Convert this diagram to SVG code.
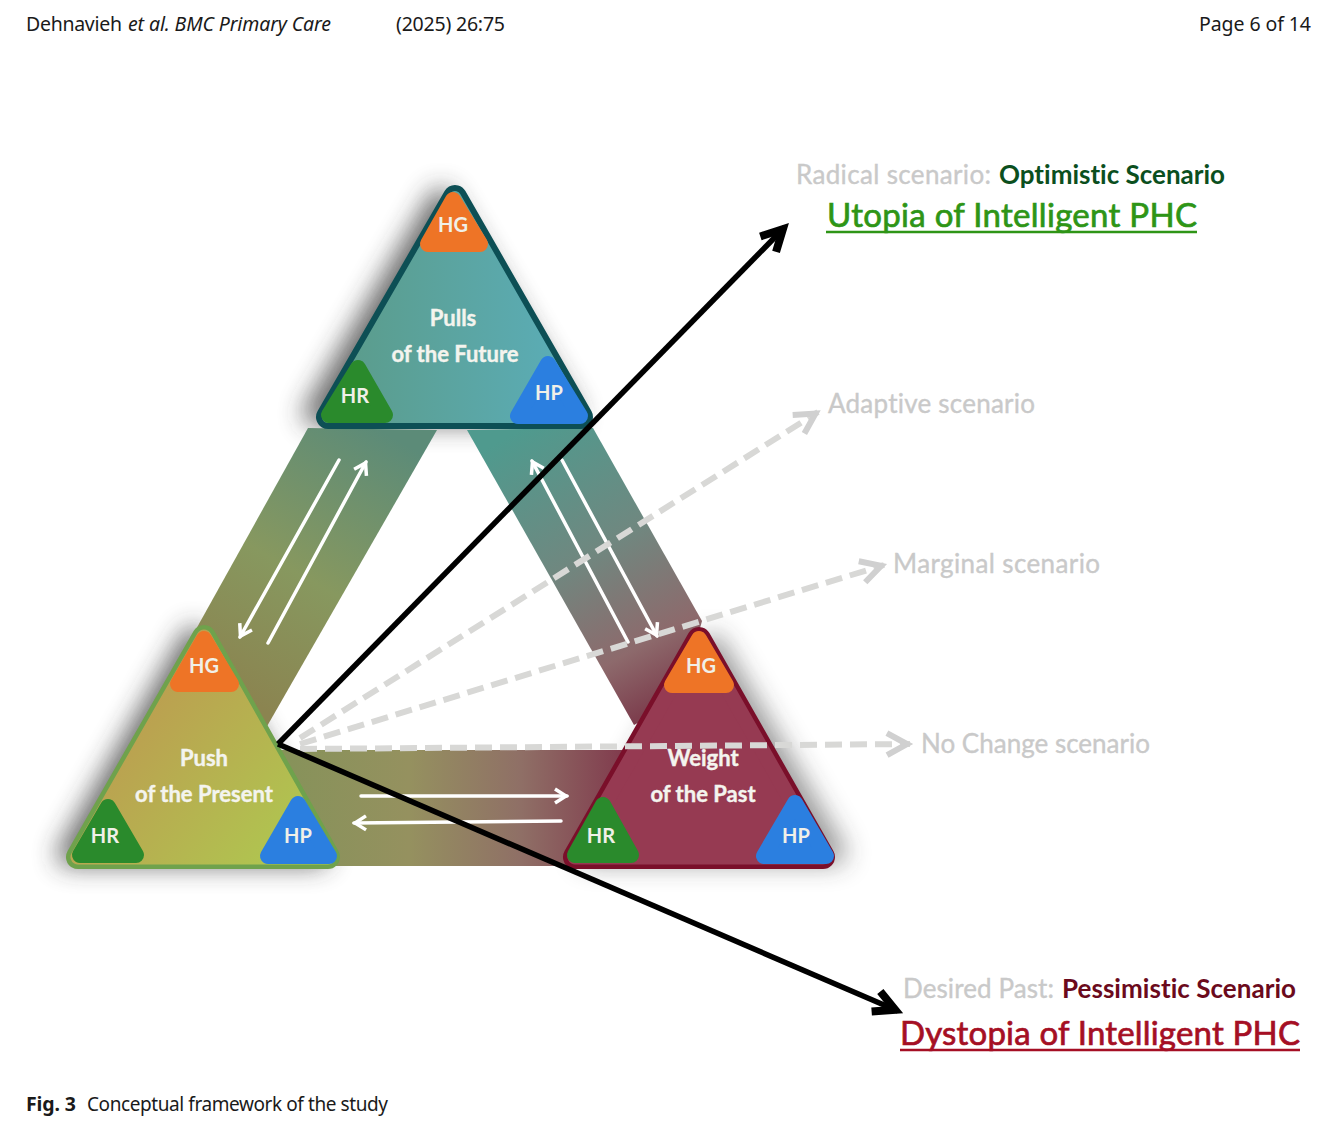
<svg xmlns="http://www.w3.org/2000/svg" width="1344" height="1123" viewBox="0 0 1344 1123">
<style>
text{font-family:"Lato","Liberation Sans",sans-serif;font-variant-ligatures:none}
.hdr{font-family:"Noto Sans","Liberation Sans",sans-serif;font-size:19.5px;fill:#1a1a1a}
.lbl{font-weight:700;font-size:22px;fill:#f4f4ee;text-anchor:middle;stroke:#f4f4ee;stroke-width:.4}
.sm{font-weight:700;font-size:20px;fill:#f0f0e8;text-anchor:middle}
.grey{font-size:26px;fill:#c9c9c9;stroke:#c9c9c9;stroke-width:.35}
.sub{font-size:26px;font-weight:700}
.big{font-size:33px;stroke-width:.7}
.hg{fill:#ee7426;stroke:#ee7426;stroke-width:16;stroke-linejoin:round}
.hr{fill:#2a8a2c;stroke:#2a8a2c;stroke-width:16;stroke-linejoin:round}
.hp{fill:#2b7fe0;stroke:#2b7fe0;stroke-width:16;stroke-linejoin:round}
.edge{stroke-linejoin:round;stroke-width:24}
.shadow{fill:#333;stroke:#333;stroke-width:22;stroke-linejoin:round;filter:url(#blur);opacity:.72}
.wa{stroke:#fff;stroke-width:3.5;fill:none;stroke-linecap:round;marker-end:url(#mw)}
.da{stroke:#d8d8d6;stroke-width:6;fill:none;stroke-dasharray:17 8;marker-end:url(#mg)}
.ba{stroke:#000;stroke-width:5.5;fill:none;marker-end:url(#mb)}
</style>
<defs>
<filter id="blur" x="-30%" y="-30%" width="160%" height="160%"><feGaussianBlur stdDeviation="13"/></filter>
<marker id="mb" markerUnits="userSpaceOnUse" markerWidth="50" markerHeight="50" viewBox="-35 -25 50 50" refX="0" refY="0" orient="auto"><path d="M-24,-11 L-3,0 L-24,11" fill="none" stroke="#000" stroke-width="8"/></marker>
<marker id="mg" markerUnits="userSpaceOnUse" markerWidth="50" markerHeight="50" viewBox="-35 -25 50 50" refX="0" refY="0" orient="auto"><path d="M-23,-11 L-3,0 L-23,11" fill="none" stroke="#d0d0d0" stroke-width="6"/></marker>
<marker id="mw" markerUnits="userSpaceOnUse" markerWidth="30" markerHeight="30" viewBox="-20 -15 30 30" refX="0" refY="0" orient="auto"><path d="M-12,-7 L-1,0 L-12,7" fill="none" stroke="#fff" stroke-width="3.5"/></marker>
<linearGradient id="gl" gradientUnits="userSpaceOnUse" x1="380" y1="430" x2="230" y2="690"><stop offset="0" stop-color="#5c8b78"/><stop offset=".55" stop-color="#87985f"/><stop offset="1" stop-color="#8b8450"/></linearGradient>
<linearGradient id="gr" gradientUnits="userSpaceOnUse" x1="520" y1="430" x2="670" y2="700"><stop offset="0" stop-color="#4f9a8e"/><stop offset=".45" stop-color="#6f8880"/><stop offset=".8" stop-color="#8d6a6c"/><stop offset="1" stop-color="#7d3f4e"/></linearGradient>
<linearGradient id="gb" gradientUnits="userSpaceOnUse" x1="290" y1="800" x2="630" y2="800"><stop offset="0" stop-color="#87925a"/><stop offset=".35" stop-color="#95915f"/><stop offset=".68" stop-color="#8f6f66"/><stop offset="1" stop-color="#80384c"/></linearGradient>
<linearGradient id="ft" gradientUnits="userSpaceOnUse" x1="320" y1="350" x2="590" y2="350"><stop offset="0" stop-color="#5b9a86"/><stop offset="1" stop-color="#5bafbc"/></linearGradient>
<linearGradient id="fl" gradientUnits="userSpaceOnUse" x1="110" y1="700" x2="310" y2="860"><stop offset="0" stop-color="#bd9a50"/><stop offset="1" stop-color="#aeca50"/></linearGradient>
</defs>
<rect width="1344" height="1123" fill="#fff"/>
<g id="header">
<text class="hdr" x="26" y="31" textLength="96">Dehnavieh</text>
<text class="hdr" x="128" y="31" font-style="italic" textLength="203">et al. BMC Primary Care</text>
<text class="hdr" x="396" y="31" textLength="109">(2025) 26:75</text>
<text class="hdr" x="1199" y="31" textLength="112">Page 6 of 14</text>
</g>
<g id="shadows">
<path class="shadow" d="M441,199 L314,414 L568,414Z"/>
<path class="shadow" d="M194,637 L68,855 L318,855Z"/>
<path class="shadow" style="opacity:.5" d="M712,645 L590,853 L835,853Z"/>
</g>
<g id="bands">
<path fill="url(#gl)" d="M308,428 L437,430 L262,735 L190,640Z"/>
<path fill="url(#gr)" d="M467,430 L593,428 L702,621 L680,700 L634,725Z"/>
<path fill="url(#gb)" d="M280,750 L640,750 L640,866 L320,866Z"/>
</g>
<g id="pulls">
<path class="edge" fill="url(#ft)" stroke="#0d4f55" d="M455,197 L328,417 L581,417Z"/>
<path fill="url(#ft)" stroke="url(#ft)" stroke-width="12" stroke-linejoin="round" d="M455,197 L328,417 L581,417Z"/>
<path class="hg" d="M453,200 L428,244 L480,244Z"/>
<path class="hr" d="M358,368 L329,415 L385,415Z"/>
<path class="hp" d="M548,364 L518,416 L580,416Z"/>
<text class="sm" x="453" y="232">HG</text>
<text class="sm" x="355" y="403">HR</text>
<text class="sm" x="549" y="400">HP</text>
<text class="lbl" x="453" y="326">Pulls</text>
<text class="lbl" x="455" y="362">of the Future</text>
</g>
<g id="push">
<path class="edge" fill="url(#fl)" stroke="#6fa24c" d="M204,637 L78,857 L328,857Z"/>
<path fill="url(#fl)" stroke="url(#fl)" stroke-width="15" stroke-linejoin="round" d="M204,637 L78,857 L328,857Z"/>
<path class="hg" d="M204,639 L178,684 L231,684Z"/>
<path class="hr" d="M108,807 L80,855 L136,855Z"/>
<path class="hp" d="M298,804 L268,856 L329,856Z"/>
<text class="sm" x="204" y="673">HG</text>
<text class="sm" x="105" y="843">HR</text>
<text class="sm" x="298" y="843">HP</text>
<text class="lbl" x="204" y="766">Push</text>
<text class="lbl" x="204" y="802">of the Present</text>
</g>
<g id="weight">
<path class="edge" fill="#963a52" stroke="#7a0f2a" d="M699,639 L575,857 L823,857Z"/>
<path fill="#963a52" stroke="#963a52" stroke-width="15" stroke-linejoin="round" d="M699,639 L575,857 L823,857Z"/>
<path class="hg" d="M699,639 L672,685 L726,685Z"/>
<path class="hr" d="M603,805 L575,855 L631,855Z"/>
<path class="hp" d="M795,803 L764,856 L826,856Z"/>
<text class="sm" x="701" y="673">HG</text>
<text class="sm" x="601" y="843">HR</text>
<text class="sm" x="796" y="843">HP</text>
<text class="lbl" x="703" y="766">Weight</text>
<text class="lbl" x="703" y="802">of the Past</text>
</g>
<g id="connectors">
<path class="wa" d="M339,460 L240,637"/>
<path class="wa" d="M268,643 L366,462"/>
<path class="wa" d="M628,642 L532,461"/>
<path class="wa" d="M562,460 L657,636"/>
<path class="wa" d="M361,796 L567,796"/>
<path class="wa" d="M561,821 L354,823"/>
<path class="da" d="M300,738 L818,412"/>
<path class="da" d="M300,744 L884,565"/>
<path class="da" d="M300,749 L910,744"/>
<path class="ba" d="M278,744 L785,227"/>
<path class="ba" d="M278,744 L898,1011"/>
</g>
<g id="labels">
<text class="grey" x="796" y="184" textLength="195">Radical scenario:</text>
<text class="sub" x="999" y="184" fill="#0b4f1e" textLength="226">Optimistic Scenario</text>
<text class="big" x="827" y="227" fill="#2e9516" stroke="#2e9516" textLength="370">Utopia of Intelligent PHC</text>
<path d="M826,232 H1197" stroke="#2e9516" stroke-width="2.5"/>
<text class="grey" x="828" y="413" textLength="207">Adaptive scenario</text>
<text class="grey" x="893" y="573" textLength="207">Marginal scenario</text>
<text class="grey" x="921" y="753" textLength="229">No Change scenario</text>
<text class="grey" x="903" y="998" textLength="151">Desired Past:</text>
<text class="sub" x="1062" y="998" fill="#6b0a1c" textLength="234">Pessimistic Scenario</text>
<text class="big" x="900" y="1045" fill="#a50f24" stroke="#a50f24" textLength="400">Dystopia of Intelligent PHC</text>
<path d="M900,1050 H1300" stroke="#a50f24" stroke-width="2.5"/>
</g>
<g id="caption">
<text class="hdr" x="26" y="1111" font-weight="700" textLength="50">Fig. 3</text>
<text class="hdr" x="87" y="1111" textLength="301" style="font-size:19px">Conceptual framework of the study</text>
</g>
</svg>
